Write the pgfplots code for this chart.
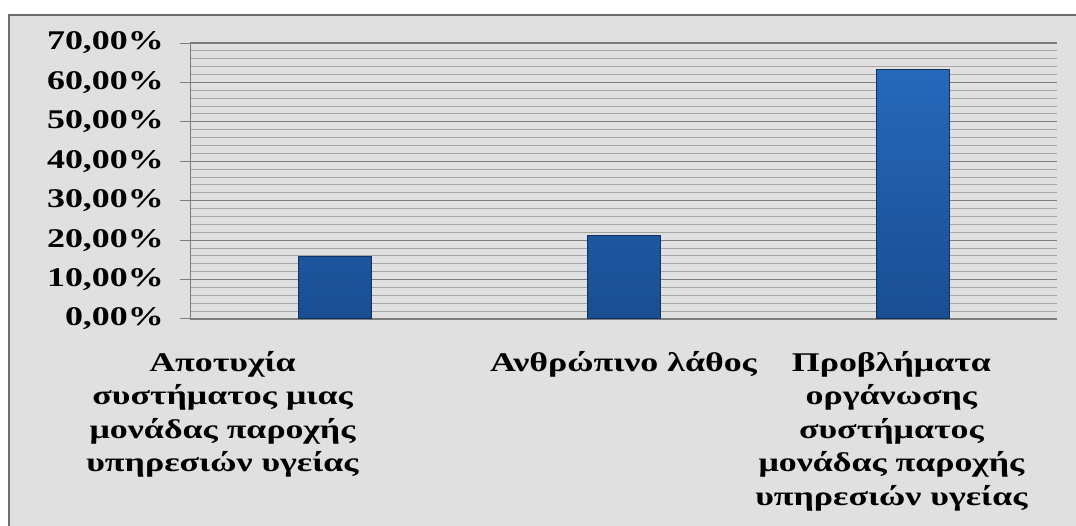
\documentclass[border=0pt]{standalone}
\usepackage{fontspec}
\setmainfont{Liberation Serif}[FakeStretch=1.33]
\usepackage{pgfplots}
\pgfplotsset{compat=1.18}
\definecolor{bg}{RGB}{224,224,224}
\definecolor{frame}{RGB}{110,110,110}
\definecolor{majgrid}{RGB}{125,125,125}
\definecolor{mingrid}{RGB}{165,165,165}
\definecolor{bartop}{RGB}{38,104,186}
\definecolor{barbot}{RGB}{26,78,146}
\definecolor{baredge}{RGB}{14,50,98}
\begin{document}
\begin{tikzpicture}
\fill[white] (0,0) rectangle (1076pt,526pt);
\fill[bg] (9pt,0) rectangle (1076pt,511pt);
\draw[frame, line width=2pt] (9pt,0) -- (9pt,511pt) -- (1076pt,511pt);
\begin{axis}[
  at={(190pt,207pt)}, anchor=south west,
  scale only axis, width=867pt, height=276pt,
  xmin=-0.5, xmax=2.5, ymin=0, ymax=70,
  axis lines*=left,
  axis line style={majgrid, line width=1pt},
  clip=false,
  xtick={-0.3875,1,1.927},
  xticklabels={{Αποτυχία\\συστήματος μιας\\μονάδας παροχής\\υπηρεσιών υγείας},
               {Ανθρώπινο λάθος},
               {Προβλήματα\\οργάνωσης\\συστήματος\\μονάδας παροχής\\υπηρεσιών υγείας}},
  x tick style={draw=none},
  xticklabel style={align=center, anchor=north, inner sep=0pt, yshift=-22pt,
    font=\fontsize{27}{33.5}\selectfont\bfseries},
  ytick={0,10,...,70},
  yticklabels={{0,00\%},{10,00\%},{20,00\%},{30,00\%},{40,00\%},{50,00\%},{60,00\%},{70,00\%}},
  yticklabel style={anchor=east, inner sep=0pt, xshift=-16pt,
    font=\fontsize{27}{33.5}\selectfont\bfseries},
  y tick style={majgrid, line width=1pt},
  major tick length=10pt,
  tick align=outside,
  minor y tick num=4,
  minor tick length=0pt,
  ymajorgrids, yminorgrids,
  major grid style={majgrid, line width=1.2pt},
  minor grid style={mingrid, line width=1pt},
]
\addplot[ybar, bar width=73pt, draw=baredge, line width=1pt,
  top color=bartop, bottom color=barbot]
  coordinates {(0,15.79) (1,21.05) (2,63.16)};
\end{axis}
\pgfresetboundingbox
\path (0,0) rectangle (1076pt,526pt);
\end{tikzpicture}
\end{document}
